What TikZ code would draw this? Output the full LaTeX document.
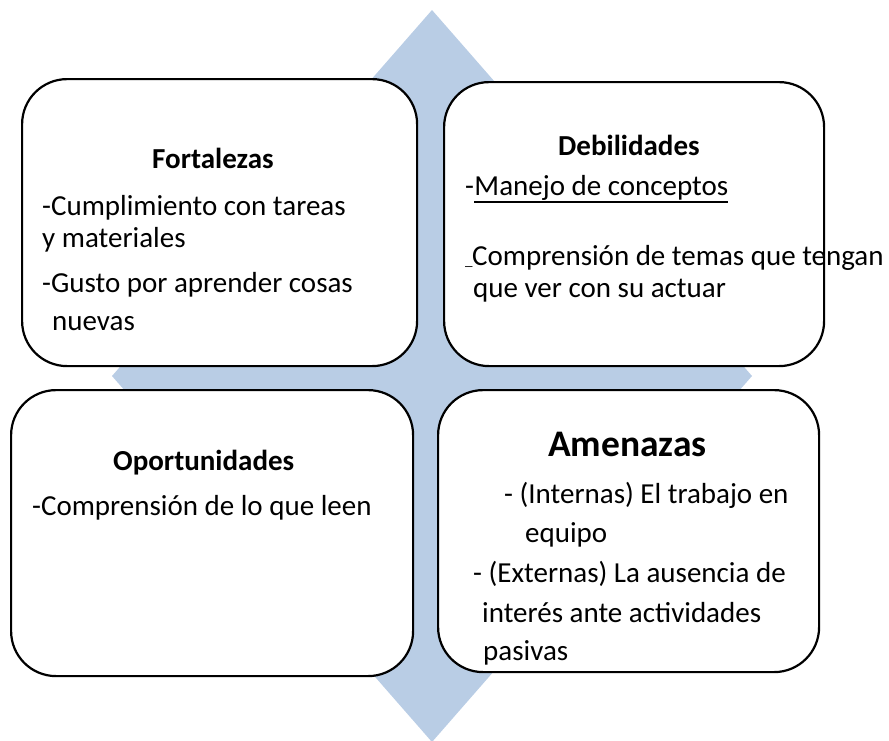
\documentclass[tikz,border=0pt]{standalone}
\usepackage{fontspec}
\setmainfont{Carlito}
\definecolor{diam}{HTML}{B9CDE5}
\begin{document}
\begin{tikzpicture}[x=1pt,y=-1pt,
  box/.style={draw=black, line width=2.2pt, fill=white, rounded corners=45pt, anchor=north west, inner sep=0pt},
  txt/.style={anchor=base west, inner sep=0pt, font=\fontsize{29}{35}\selectfont},
  head/.style={anchor=base west, inner sep=0pt, font=\fontsize{29}{35}\selectfont\bfseries},
  bighead/.style={anchor=base west, inner sep=0pt, font=\fontsize{37.5}{44}\selectfont\bfseries}]
\useasboundingbox (0,0) rectangle (889,740);
\fill[diam] (432,10) -- (752,376) -- (432,742) -- (112,376) -- cycle;
% boxes
\node[box, minimum width=395pt, minimum height=287pt] (F) at (21,78) {};
\node[box, minimum width=380pt, minimum height=284pt] (D) at (443,81) {};
\node[box, minimum width=402pt, minimum height=286pt] (O) at (10,389) {};
\node[box, minimum width=381pt, minimum height=282pt] (A) at (437,389) {};
% Fortalezas
\node[head] (fh) at (152,168) {Fortalezas};
\node[txt] (f1) at (42,215) {-Cumplimiento con tareas};
\node[txt] (f2) at (42,247) {y materiales};
\node[txt] (f3) at (42,292) {-Gusto por aprender cosas};
\node[txt] (f4) at (52,330) {nuevas};
% Debilidades
\node[head] (dh) at (558,155) {Debilidades};
\node[txt] (d1) at (465,195) {-};
\node[txt] (d1b) at (d1.base east) {Manejo de conceptos};
\draw[line width=1.3pt] ([yshift=-7pt]d1b.base west) -- ([yshift=-7pt]d1b.base east);
\node[anchor=base west, inner sep=0pt, font=\fontsize{15}{18}\selectfont] (d2a) at (465,265) {\_};
\node[txt] (d2) at (472,265) {Comprensión de temas que tengan};
\node[txt] (d3) at (473,297) {que ver con su actuar};
% Oportunidades
\node[head] (oh) at (113,470) {Oportunidades};
\node[txt] (o1) at (32,515) {-Comprensión de lo que leen};
% Amenazas
\node[bighead] (ah) at (548,456) {Amenazas};
\node[txt] (a1) at (504,503) {- (Internas) El trabajo en};
\node[txt] (a2) at (525,542) {equipo};
\node[txt] (a3) at (473,582) {- (Externas) La ausencia de};
\node[txt] (a4) at (482,622) {interés ante actividades};
\node[txt] (a5) at (483,660) {pasivas};
\end{tikzpicture}
\end{document}
